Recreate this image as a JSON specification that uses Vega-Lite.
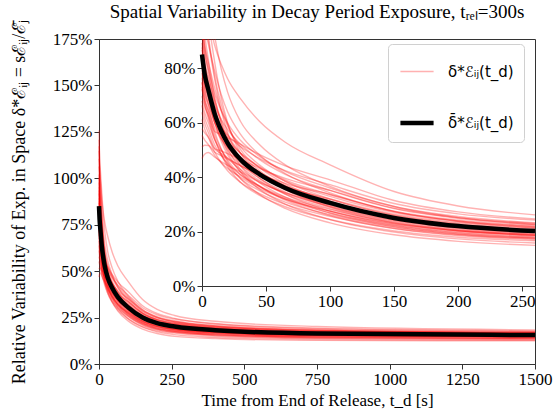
{
"$schema":"https://vega.github.io/schema/vega-lite/v6.json",
"width":436,"height":325,
"autosize":{"type":"none"},
"padding":{"left":99,"top":39,"right":20,"bottom":53},
"title":{"text":"Spatial Variability in Decay Period Exposure, tᵣₑₗ=300s","font":"Liberation Serif","fontSize":19,"fontWeight":"normal","color":"black","anchor":"middle","offset":-3},
"datasets":{
"mean":[{"t":0,"v":0.85,"k":"b"},{"t":2,"v":0.78,"k":"b"},{"t":5,"v":0.72,"k":"b"},{"t":10,"v":0.63,"k":"b"},{"t":15,"v":0.57,"k":"b"},{"t":20,"v":0.525,"k":"b"},{"t":30,"v":0.465,"k":"b"},{"t":45,"v":0.41,"k":"b"},{"t":65,"v":0.36,"k":"b"},{"t":100,"v":0.305,"k":"b"},{"t":150,"v":0.25,"k":"b"},{"t":200,"v":0.22,"k":"b"},{"t":260,"v":0.202,"k":"b"},{"t":400,"v":0.182,"k":"b"},{"t":750,"v":0.164,"k":"b"},{"t":1500,"v":0.156,"k":"b"}],
"lines":[
{"i":1,"t":0,"v":1.258,"k":"a"},{"i":1,"t":2,"v":1.105,"k":"a"},{"i":1,"t":5,"v":0.981,"k":"a"},{"i":1,"t":10,"v":0.819,"k":"a"},{"i":1,"t":15,"v":0.691,"k":"a"},{"i":1,"t":20,"v":0.600,"k":"a"},{"i":1,"t":30,"v":0.488,"k":"a"},{"i":1,"t":45,"v":0.416,"k":"a"},{"i":1,"t":65,"v":0.355,"k":"a"},{"i":1,"t":100,"v":0.290,"k":"a"},{"i":1,"t":150,"v":0.234,"k":"a"},{"i":1,"t":200,"v":0.204,"k":"a"},{"i":1,"t":260,"v":0.186,"k":"a"},{"i":1,"t":400,"v":0.169,"k":"a"},{"i":1,"t":750,"v":0.154,"k":"a"},{"i":1,"t":1500,"v":0.148,"k":"a"},
{"i":2,"t":0,"v":1.207,"k":"a"},{"i":2,"t":2,"v":1.115,"k":"a"},{"i":2,"t":5,"v":1.037,"k":"a"},{"i":2,"t":10,"v":0.914,"k":"a"},{"i":2,"t":15,"v":0.797,"k":"a"},{"i":2,"t":20,"v":0.712,"k":"a"},{"i":2,"t":30,"v":0.605,"k":"a"},{"i":2,"t":45,"v":0.519,"k":"a"},{"i":2,"t":65,"v":0.445,"k":"a"},{"i":2,"t":100,"v":0.366,"k":"a"},{"i":2,"t":150,"v":0.292,"k":"a"},{"i":2,"t":200,"v":0.251,"k":"a"},{"i":2,"t":260,"v":0.226,"k":"a"},{"i":2,"t":400,"v":0.202,"k":"a"},{"i":2,"t":750,"v":0.180,"k":"a"},{"i":2,"t":1500,"v":0.168,"k":"a"},
{"i":3,"t":0,"v":1.148,"k":"a"},{"i":3,"t":2,"v":1.012,"k":"a"},{"i":3,"t":5,"v":0.902,"k":"a"},{"i":3,"t":10,"v":0.756,"k":"a"},{"i":3,"t":15,"v":0.644,"k":"a"},{"i":3,"t":20,"v":0.564,"k":"a"},{"i":3,"t":30,"v":0.465,"k":"a"},{"i":3,"t":45,"v":0.396,"k":"a"},{"i":3,"t":65,"v":0.337,"k":"a"},{"i":3,"t":100,"v":0.275,"k":"a"},{"i":3,"t":150,"v":0.223,"k":"a"},{"i":3,"t":200,"v":0.195,"k":"a"},{"i":3,"t":260,"v":0.178,"k":"a"},{"i":3,"t":400,"v":0.161,"k":"a"},{"i":3,"t":750,"v":0.146,"k":"a"},{"i":3,"t":1500,"v":0.140,"k":"a"},
{"i":4,"t":0,"v":1.105,"k":"a"},{"i":4,"t":2,"v":1.041,"k":"a"},{"i":4,"t":5,"v":0.983,"k":"a"},{"i":4,"t":10,"v":0.882,"k":"a"},{"i":4,"t":15,"v":0.814,"k":"a"},{"i":4,"t":20,"v":0.761,"k":"a"},{"i":4,"t":30,"v":0.688,"k":"a"},{"i":4,"t":45,"v":0.604,"k":"a"},{"i":4,"t":65,"v":0.528,"k":"a"},{"i":4,"t":100,"v":0.445,"k":"a"},{"i":4,"t":150,"v":0.347,"k":"a"},{"i":4,"t":200,"v":0.294,"k":"a"},{"i":4,"t":260,"v":0.261,"k":"a"},{"i":4,"t":400,"v":0.230,"k":"a"},{"i":4,"t":750,"v":0.202,"k":"a"},{"i":4,"t":1500,"v":0.184,"k":"a"},
{"i":5,"t":0,"v":1.063,"k":"a"},{"i":5,"t":2,"v":0.934,"k":"a"},{"i":5,"t":5,"v":0.830,"k":"a"},{"i":5,"t":10,"v":0.693,"k":"a"},{"i":5,"t":15,"v":0.597,"k":"a"},{"i":5,"t":20,"v":0.528,"k":"a"},{"i":5,"t":30,"v":0.442,"k":"a"},{"i":5,"t":45,"v":0.379,"k":"a"},{"i":5,"t":65,"v":0.326,"k":"a"},{"i":5,"t":100,"v":0.268,"k":"a"},{"i":5,"t":150,"v":0.218,"k":"a"},{"i":5,"t":200,"v":0.190,"k":"a"},{"i":5,"t":260,"v":0.174,"k":"a"},{"i":5,"t":400,"v":0.157,"k":"a"},{"i":5,"t":750,"v":0.143,"k":"a"},{"i":5,"t":1500,"v":0.137,"k":"a"},
{"i":6,"t":0,"v":1.020,"k":"a"},{"i":6,"t":2,"v":0.950,"k":"a"},{"i":6,"t":5,"v":0.887,"k":"a"},{"i":6,"t":10,"v":0.788,"k":"a"},{"i":6,"t":15,"v":0.703,"k":"a"},{"i":6,"t":20,"v":0.640,"k":"a"},{"i":6,"t":30,"v":0.558,"k":"a"},{"i":6,"t":45,"v":0.481,"k":"a"},{"i":6,"t":65,"v":0.413,"k":"a"},{"i":6,"t":100,"v":0.342,"k":"a"},{"i":6,"t":150,"v":0.274,"k":"a"},{"i":6,"t":200,"v":0.237,"k":"a"},{"i":6,"t":260,"v":0.214,"k":"a"},{"i":6,"t":400,"v":0.192,"k":"a"},{"i":6,"t":750,"v":0.172,"k":"a"},{"i":6,"t":1500,"v":0.162,"k":"a"},
{"i":7,"t":0,"v":0.978,"k":"a"},{"i":7,"t":2,"v":0.870,"k":"a"},{"i":7,"t":5,"v":0.781,"k":"a"},{"i":7,"t":10,"v":0.662,"k":"a"},{"i":7,"t":15,"v":0.573,"k":"a"},{"i":7,"t":20,"v":0.508,"k":"a"},{"i":7,"t":30,"v":0.428,"k":"a"},{"i":7,"t":45,"v":0.367,"k":"a"},{"i":7,"t":65,"v":0.315,"k":"a"},{"i":7,"t":100,"v":0.259,"k":"a"},{"i":7,"t":150,"v":0.211,"k":"a"},{"i":7,"t":200,"v":0.185,"k":"a"},{"i":7,"t":260,"v":0.170,"k":"a"},{"i":7,"t":400,"v":0.154,"k":"a"},{"i":7,"t":750,"v":0.140,"k":"a"},{"i":7,"t":1500,"v":0.134,"k":"a"},
{"i":8,"t":0,"v":0.952,"k":"a"},{"i":8,"t":2,"v":0.882,"k":"a"},{"i":8,"t":5,"v":0.820,"k":"a"},{"i":8,"t":10,"v":0.725,"k":"a"},{"i":8,"t":15,"v":0.646,"k":"a"},{"i":8,"t":20,"v":0.587,"k":"a"},{"i":8,"t":30,"v":0.512,"k":"a"},{"i":8,"t":45,"v":0.444,"k":"a"},{"i":8,"t":65,"v":0.384,"k":"a"},{"i":8,"t":100,"v":0.320,"k":"a"},{"i":8,"t":150,"v":0.259,"k":"a"},{"i":8,"t":200,"v":0.226,"k":"a"},{"i":8,"t":260,"v":0.206,"k":"a"},{"i":8,"t":400,"v":0.185,"k":"a"},{"i":8,"t":750,"v":0.166,"k":"a"},{"i":8,"t":1500,"v":0.158,"k":"a"},
{"i":9,"t":0,"v":0.935,"k":"a"},{"i":9,"t":2,"v":0.831,"k":"a"},{"i":9,"t":5,"v":0.745,"k":"a"},{"i":9,"t":10,"v":0.630,"k":"a"},{"i":9,"t":15,"v":0.550,"k":"a"},{"i":9,"t":20,"v":0.492,"k":"a"},{"i":9,"t":30,"v":0.419,"k":"a"},{"i":9,"t":45,"v":0.355,"k":"a"},{"i":9,"t":65,"v":0.301,"k":"a"},{"i":9,"t":100,"v":0.244,"k":"a"},{"i":9,"t":150,"v":0.198,"k":"a"},{"i":9,"t":200,"v":0.173,"k":"a"},{"i":9,"t":260,"v":0.158,"k":"a"},{"i":9,"t":400,"v":0.144,"k":"a"},{"i":9,"t":750,"v":0.132,"k":"a"},{"i":9,"t":1500,"v":0.128,"k":"a"},
{"i":10,"t":0,"v":0.918,"k":"a"},{"i":10,"t":2,"v":0.853,"k":"a"},{"i":10,"t":5,"v":0.796,"k":"a"},{"i":10,"t":10,"v":0.706,"k":"a"},{"i":10,"t":15,"v":0.644,"k":"a"},{"i":10,"t":20,"v":0.598,"k":"a"},{"i":10,"t":30,"v":0.535,"k":"a"},{"i":10,"t":45,"v":0.476,"k":"a"},{"i":10,"t":65,"v":0.421,"k":"a"},{"i":10,"t":100,"v":0.360,"k":"a"},{"i":10,"t":150,"v":0.292,"k":"a"},{"i":10,"t":200,"v":0.255,"k":"a"},{"i":10,"t":260,"v":0.232,"k":"a"},{"i":10,"t":400,"v":0.207,"k":"a"},{"i":10,"t":750,"v":0.184,"k":"a"},{"i":10,"t":1500,"v":0.172,"k":"a"},
{"i":11,"t":0,"v":0.893,"k":"a"},{"i":11,"t":2,"v":0.805,"k":"a"},{"i":11,"t":5,"v":0.733,"k":"a"},{"i":11,"t":10,"v":0.630,"k":"a"},{"i":11,"t":15,"v":0.564,"k":"a"},{"i":11,"t":20,"v":0.515,"k":"a"},{"i":11,"t":30,"v":0.451,"k":"a"},{"i":11,"t":45,"v":0.395,"k":"a"},{"i":11,"t":65,"v":0.345,"k":"a"},{"i":11,"t":100,"v":0.290,"k":"a"},{"i":11,"t":150,"v":0.238,"k":"a"},{"i":11,"t":200,"v":0.209,"k":"a"},{"i":11,"t":260,"v":0.192,"k":"a"},{"i":11,"t":400,"v":0.173,"k":"a"},{"i":11,"t":750,"v":0.157,"k":"a"},{"i":11,"t":1500,"v":0.150,"k":"a"},
{"i":12,"t":0,"v":0.876,"k":"a"},{"i":12,"t":2,"v":0.817,"k":"a"},{"i":12,"t":5,"v":0.765,"k":"a"},{"i":12,"t":10,"v":0.680,"k":"a"},{"i":12,"t":15,"v":0.610,"k":"a"},{"i":12,"t":20,"v":0.557,"k":"a"},{"i":12,"t":30,"v":0.488,"k":"a"},{"i":12,"t":45,"v":0.423,"k":"a"},{"i":12,"t":65,"v":0.366,"k":"a"},{"i":12,"t":100,"v":0.305,"k":"a"},{"i":12,"t":150,"v":0.248,"k":"a"},{"i":12,"t":200,"v":0.217,"k":"a"},{"i":12,"t":260,"v":0.198,"k":"a"},{"i":12,"t":400,"v":0.178,"k":"a"},{"i":12,"t":750,"v":0.161,"k":"a"},{"i":12,"t":1500,"v":0.153,"k":"a"},
{"i":13,"t":0,"v":0.850,"k":"a"},{"i":13,"t":2,"v":0.766,"k":"a"},{"i":13,"t":5,"v":0.697,"k":"a"},{"i":13,"t":10,"v":0.599,"k":"a"},{"i":13,"t":15,"v":0.532,"k":"a"},{"i":13,"t":20,"v":0.482,"k":"a"},{"i":13,"t":30,"v":0.419,"k":"a"},{"i":13,"t":45,"v":0.366,"k":"a"},{"i":13,"t":65,"v":0.319,"k":"a"},{"i":13,"t":100,"v":0.268,"k":"a"},{"i":13,"t":150,"v":0.222,"k":"a"},{"i":13,"t":200,"v":0.197,"k":"a"},{"i":13,"t":260,"v":0.182,"k":"a"},{"i":13,"t":400,"v":0.165,"k":"a"},{"i":13,"t":750,"v":0.150,"k":"a"},{"i":13,"t":1500,"v":0.145,"k":"a"},
{"i":14,"t":0,"v":0.850,"k":"a"},{"i":14,"t":2,"v":0.785,"k":"a"},{"i":14,"t":5,"v":0.729,"k":"a"},{"i":14,"t":10,"v":0.643,"k":"a"},{"i":14,"t":15,"v":0.587,"k":"a"},{"i":14,"t":20,"v":0.545,"k":"a"},{"i":14,"t":30,"v":0.488,"k":"a"},{"i":14,"t":45,"v":0.435,"k":"a"},{"i":14,"t":65,"v":0.385,"k":"a"},{"i":14,"t":100,"v":0.329,"k":"a"},{"i":14,"t":150,"v":0.270,"k":"a"},{"i":14,"t":200,"v":0.238,"k":"a"},{"i":14,"t":260,"v":0.218,"k":"a"},{"i":14,"t":400,"v":0.196,"k":"a"},{"i":14,"t":750,"v":0.175,"k":"a"},{"i":14,"t":1500,"v":0.165,"k":"a"},
{"i":15,"t":0,"v":0.833,"k":"a"},{"i":15,"t":2,"v":0.756,"k":"a"},{"i":15,"t":5,"v":0.692,"k":"a"},{"i":15,"t":10,"v":0.599,"k":"a"},{"i":15,"t":15,"v":0.542,"k":"a"},{"i":15,"t":20,"v":0.499,"k":"a"},{"i":15,"t":30,"v":0.442,"k":"a"},{"i":15,"t":45,"v":0.387,"k":"a"},{"i":15,"t":65,"v":0.337,"k":"a"},{"i":15,"t":100,"v":0.284,"k":"a"},{"i":15,"t":150,"v":0.231,"k":"a"},{"i":15,"t":200,"v":0.203,"k":"a"},{"i":15,"t":260,"v":0.186,"k":"a"},{"i":15,"t":400,"v":0.168,"k":"a"},{"i":15,"t":750,"v":0.153,"k":"a"},{"i":15,"t":1500,"v":0.147,"k":"a"},
{"i":16,"t":0,"v":0.816,"k":"a"},{"i":16,"t":2,"v":0.760,"k":"a"},{"i":16,"t":5,"v":0.710,"k":"a"},{"i":16,"t":10,"v":0.630,"k":"a"},{"i":16,"t":15,"v":0.574,"k":"a"},{"i":16,"t":20,"v":0.532,"k":"a"},{"i":16,"t":30,"v":0.474,"k":"a"},{"i":16,"t":45,"v":0.418,"k":"a"},{"i":16,"t":65,"v":0.367,"k":"a"},{"i":16,"t":100,"v":0.311,"k":"a"},{"i":16,"t":150,"v":0.253,"k":"a"},{"i":16,"t":200,"v":0.221,"k":"a"},{"i":16,"t":260,"v":0.202,"k":"a"},{"i":16,"t":400,"v":0.182,"k":"a"},{"i":16,"t":750,"v":0.164,"k":"a"},{"i":16,"t":1500,"v":0.156,"k":"a"},
{"i":17,"t":0,"v":0.808,"k":"a"},{"i":17,"t":2,"v":0.727,"k":"a"},{"i":17,"t":5,"v":0.661,"k":"a"},{"i":17,"t":10,"v":0.567,"k":"a"},{"i":17,"t":15,"v":0.503,"k":"a"},{"i":17,"t":20,"v":0.456,"k":"a"},{"i":17,"t":30,"v":0.395,"k":"a"},{"i":17,"t":45,"v":0.336,"k":"a"},{"i":17,"t":65,"v":0.285,"k":"a"},{"i":17,"t":100,"v":0.232,"k":"a"},{"i":17,"t":150,"v":0.188,"k":"a"},{"i":17,"t":200,"v":0.164,"k":"a"},{"i":17,"t":260,"v":0.149,"k":"a"},{"i":17,"t":400,"v":0.137,"k":"a"},{"i":17,"t":750,"v":0.127,"k":"a"},{"i":17,"t":1500,"v":0.125,"k":"a"},
{"i":18,"t":0,"v":0.791,"k":"a"},{"i":18,"t":2,"v":0.739,"k":"a"},{"i":18,"t":5,"v":0.693,"k":"a"},{"i":18,"t":10,"v":0.617,"k":"a"},{"i":18,"t":15,"v":0.583,"k":"a"},{"i":18,"t":20,"v":0.554,"k":"a"},{"i":18,"t":30,"v":0.512,"k":"a"},{"i":18,"t":45,"v":0.468,"k":"a"},{"i":18,"t":65,"v":0.424,"k":"a"},{"i":18,"t":100,"v":0.372,"k":"a"},{"i":18,"t":150,"v":0.303,"k":"a"},{"i":18,"t":200,"v":0.265,"k":"a"},{"i":18,"t":260,"v":0.242,"k":"a"},{"i":18,"t":400,"v":0.215,"k":"a"},{"i":18,"t":750,"v":0.190,"k":"a"},{"i":18,"t":1500,"v":0.175,"k":"a"},
{"i":19,"t":0,"v":0.782,"k":"a"},{"i":19,"t":2,"v":0.726,"k":"a"},{"i":19,"t":5,"v":0.676,"k":"a"},{"i":19,"t":10,"v":0.599,"k":"a"},{"i":19,"t":15,"v":0.547,"k":"a"},{"i":19,"t":20,"v":0.509,"k":"a"},{"i":19,"t":30,"v":0.456,"k":"a"},{"i":19,"t":45,"v":0.405,"k":"a"},{"i":19,"t":65,"v":0.357,"k":"a"},{"i":19,"t":100,"v":0.305,"k":"a"},{"i":19,"t":150,"v":0.252,"k":"a"},{"i":19,"t":200,"v":0.223,"k":"a"},{"i":19,"t":260,"v":0.206,"k":"a"},{"i":19,"t":400,"v":0.186,"k":"a"},{"i":19,"t":750,"v":0.167,"k":"a"},{"i":19,"t":1500,"v":0.159,"k":"a"},
{"i":20,"t":0,"v":0.765,"k":"a"},{"i":20,"t":2,"v":0.697,"k":"a"},{"i":20,"t":5,"v":0.639,"k":"a"},{"i":20,"t":10,"v":0.554,"k":"a"},{"i":20,"t":15,"v":0.502,"k":"a"},{"i":20,"t":20,"v":0.462,"k":"a"},{"i":20,"t":30,"v":0.409,"k":"a"},{"i":20,"t":45,"v":0.364,"k":"a"},{"i":20,"t":65,"v":0.321,"k":"a"},{"i":20,"t":100,"v":0.275,"k":"a"},{"i":20,"t":150,"v":0.227,"k":"a"},{"i":20,"t":200,"v":0.201,"k":"a"},{"i":20,"t":260,"v":0.186,"k":"a"},{"i":20,"t":400,"v":0.169,"k":"a"},{"i":20,"t":750,"v":0.154,"k":"a"},{"i":20,"t":1500,"v":0.148,"k":"a"},
{"i":21,"t":0,"v":0.748,"k":"a"},{"i":21,"t":2,"v":0.706,"k":"a"},{"i":21,"t":5,"v":0.666,"k":"a"},{"i":21,"t":10,"v":0.599,"k":"a"},{"i":21,"t":15,"v":0.561,"k":"a"},{"i":21,"t":20,"v":0.532,"k":"a"},{"i":21,"t":30,"v":0.488,"k":"a"},{"i":21,"t":45,"v":0.438,"k":"a"},{"i":21,"t":65,"v":0.390,"k":"a"},{"i":21,"t":100,"v":0.336,"k":"a"},{"i":21,"t":150,"v":0.273,"k":"a"},{"i":21,"t":200,"v":0.239,"k":"a"},{"i":21,"t":260,"v":0.218,"k":"a"},{"i":21,"t":400,"v":0.195,"k":"a"},{"i":21,"t":750,"v":0.174,"k":"a"},{"i":21,"t":1500,"v":0.164,"k":"a"},
{"i":22,"t":0,"v":0.731,"k":"a"},{"i":22,"t":2,"v":0.668,"k":"a"},{"i":22,"t":5,"v":0.615,"k":"a"},{"i":22,"t":10,"v":0.536,"k":"a"},{"i":22,"t":15,"v":0.485,"k":"a"},{"i":22,"t":20,"v":0.446,"k":"a"},{"i":22,"t":30,"v":0.395,"k":"a"},{"i":22,"t":45,"v":0.350,"k":"a"},{"i":22,"t":65,"v":0.308,"k":"a"},{"i":22,"t":100,"v":0.262,"k":"a"},{"i":22,"t":150,"v":0.217,"k":"a"},{"i":22,"t":200,"v":0.192,"k":"a"},{"i":22,"t":260,"v":0.178,"k":"a"},{"i":22,"t":400,"v":0.162,"k":"a"},{"i":22,"t":750,"v":0.148,"k":"a"},{"i":22,"t":1500,"v":0.144,"k":"a"},
{"i":23,"t":0,"v":0.723,"k":"a"},{"i":23,"t":2,"v":0.682,"k":"a"},{"i":23,"t":5,"v":0.645,"k":"a"},{"i":23,"t":10,"v":0.580,"k":"a"},{"i":23,"t":15,"v":0.540,"k":"a"},{"i":23,"t":20,"v":0.509,"k":"a"},{"i":23,"t":30,"v":0.465,"k":"a"},{"i":23,"t":45,"v":0.416,"k":"a"},{"i":23,"t":65,"v":0.369,"k":"a"},{"i":23,"t":100,"v":0.317,"k":"a"},{"i":23,"t":150,"v":0.260,"k":"a"},{"i":23,"t":200,"v":0.229,"k":"a"},{"i":23,"t":260,"v":0.210,"k":"a"},{"i":23,"t":400,"v":0.189,"k":"a"},{"i":23,"t":750,"v":0.170,"k":"a"},{"i":23,"t":1500,"v":0.161,"k":"a"},
{"i":24,"t":0,"v":0.697,"k":"a"},{"i":24,"t":2,"v":0.661,"k":"a"},{"i":24,"t":5,"v":0.628,"k":"a"},{"i":24,"t":10,"v":0.567,"k":"a"},{"i":24,"t":15,"v":0.557,"k":"a"},{"i":24,"t":20,"v":0.545,"k":"a"},{"i":24,"t":30,"v":0.521,"k":"a"},{"i":24,"t":45,"v":0.482,"k":"a"},{"i":24,"t":65,"v":0.441,"k":"a"},{"i":24,"t":100,"v":0.390,"k":"a"},{"i":24,"t":150,"v":0.314,"k":"a"},{"i":24,"t":200,"v":0.272,"k":"a"},{"i":24,"t":260,"v":0.246,"k":"a"},{"i":24,"t":400,"v":0.218,"k":"a"},{"i":24,"t":750,"v":0.193,"k":"a"},{"i":24,"t":1500,"v":0.178,"k":"a"},
{"i":25,"t":0,"v":0.680,"k":"a"},{"i":25,"t":2,"v":0.638,"k":"a"},{"i":25,"t":5,"v":0.599,"k":"a"},{"i":25,"t":10,"v":0.536,"k":"a"},{"i":25,"t":15,"v":0.498,"k":"a"},{"i":25,"t":20,"v":0.469,"k":"a"},{"i":25,"t":30,"v":0.428,"k":"a"},{"i":25,"t":45,"v":0.383,"k":"a"},{"i":25,"t":65,"v":0.341,"k":"a"},{"i":25,"t":100,"v":0.293,"k":"a"},{"i":25,"t":150,"v":0.241,"k":"a"},{"i":25,"t":200,"v":0.213,"k":"a"},{"i":25,"t":260,"v":0.196,"k":"a"},{"i":25,"t":400,"v":0.177,"k":"a"},{"i":25,"t":750,"v":0.160,"k":"a"},{"i":25,"t":1500,"v":0.153,"k":"a"},
{"i":26,"t":0,"v":0.663,"k":"a"},{"i":26,"t":2,"v":0.619,"k":"a"},{"i":26,"t":5,"v":0.580,"k":"a"},{"i":26,"t":10,"v":0.517,"k":"a"},{"i":26,"t":15,"v":0.479,"k":"a"},{"i":26,"t":20,"v":0.450,"k":"a"},{"i":26,"t":30,"v":0.409,"k":"a"},{"i":26,"t":45,"v":0.367,"k":"a"},{"i":26,"t":65,"v":0.326,"k":"a"},{"i":26,"t":100,"v":0.281,"k":"a"},{"i":26,"t":150,"v":0.232,"k":"a"},{"i":26,"t":200,"v":0.206,"k":"a"},{"i":26,"t":260,"v":0.190,"k":"a"},{"i":26,"t":400,"v":0.172,"k":"a"},{"i":26,"t":750,"v":0.156,"k":"a"},{"i":26,"t":1500,"v":0.150,"k":"a"},
{"i":27,"t":0,"v":0.638,"k":"a"},{"i":27,"t":2,"v":0.599,"k":"a"},{"i":27,"t":5,"v":0.563,"k":"a"},{"i":27,"t":10,"v":0.504,"k":"a"},{"i":27,"t":15,"v":0.486,"k":"a"},{"i":27,"t":20,"v":0.470,"k":"a"},{"i":27,"t":30,"v":0.442,"k":"a"},{"i":27,"t":45,"v":0.411,"k":"a"},{"i":27,"t":65,"v":0.377,"k":"a"},{"i":27,"t":100,"v":0.336,"k":"a"},{"i":27,"t":150,"v":0.275,"k":"a"},{"i":27,"t":200,"v":0.242,"k":"a"},{"i":27,"t":260,"v":0.222,"k":"a"},{"i":27,"t":400,"v":0.199,"k":"a"},{"i":27,"t":750,"v":0.178,"k":"a"},{"i":27,"t":1500,"v":0.167,"k":"a"},
{"i":28,"t":0,"v":0.612,"k":"a"},{"i":28,"t":2,"v":0.578,"k":"a"},{"i":28,"t":5,"v":0.546,"k":"a"},{"i":28,"t":10,"v":0.491,"k":"a"},{"i":28,"t":15,"v":0.453,"k":"a"},{"i":28,"t":20,"v":0.423,"k":"a"},{"i":28,"t":30,"v":0.381,"k":"a"},{"i":28,"t":45,"v":0.339,"k":"a"},{"i":28,"t":65,"v":0.300,"k":"a"},{"i":28,"t":100,"v":0.256,"k":"a"},{"i":28,"t":150,"v":0.212,"k":"a"},{"i":28,"t":200,"v":0.188,"k":"a"},{"i":28,"t":260,"v":0.174,"k":"a"},{"i":28,"t":400,"v":0.158,"k":"a"},{"i":28,"t":750,"v":0.145,"k":"a"},{"i":28,"t":1500,"v":0.140,"k":"a"},
{"i":29,"t":0,"v":0.578,"k":"a"},{"i":29,"t":2,"v":0.563,"k":"a"},{"i":29,"t":5,"v":0.546,"k":"a"},{"i":29,"t":10,"v":0.504,"k":"a"},{"i":29,"t":15,"v":0.496,"k":"a"},{"i":29,"t":20,"v":0.486,"k":"a"},{"i":29,"t":30,"v":0.465,"k":"a"},{"i":29,"t":45,"v":0.432,"k":"a"},{"i":29,"t":65,"v":0.395,"k":"a"},{"i":29,"t":100,"v":0.351,"k":"a"},{"i":29,"t":150,"v":0.286,"k":"a"},{"i":29,"t":200,"v":0.251,"k":"a"},{"i":29,"t":260,"v":0.230,"k":"a"},{"i":29,"t":400,"v":0.205,"k":"a"},{"i":29,"t":750,"v":0.182,"k":"a"},{"i":29,"t":1500,"v":0.170,"k":"a"},
{"i":30,"t":0,"v":0.553,"k":"a"},{"i":30,"t":2,"v":0.537,"k":"a"},{"i":30,"t":5,"v":0.519,"k":"a"},{"i":30,"t":10,"v":0.479,"k":"a"},{"i":30,"t":15,"v":0.453,"k":"a"},{"i":30,"t":20,"v":0.432,"k":"a"},{"i":30,"t":30,"v":0.400,"k":"a"},{"i":30,"t":45,"v":0.358,"k":"a"},{"i":30,"t":65,"v":0.319,"k":"a"},{"i":30,"t":100,"v":0.275,"k":"a"},{"i":30,"t":150,"v":0.228,"k":"a"},{"i":30,"t":200,"v":0.203,"k":"a"},{"i":30,"t":260,"v":0.188,"k":"a"},{"i":30,"t":400,"v":0.171,"k":"a"},{"i":30,"t":750,"v":0.155,"k":"a"},{"i":30,"t":1500,"v":0.150,"k":"a"},
{"i":31,"t":0,"v":0.510,"k":"a"},{"i":31,"t":2,"v":0.517,"k":"a"},{"i":31,"t":5,"v":0.516,"k":"a"},{"i":31,"t":10,"v":0.491,"k":"a"},{"i":31,"t":15,"v":0.479,"k":"a"},{"i":31,"t":20,"v":0.466,"k":"a"},{"i":31,"t":30,"v":0.442,"k":"a"},{"i":31,"t":45,"v":0.404,"k":"a"},{"i":31,"t":65,"v":0.365,"k":"a"},{"i":31,"t":100,"v":0.320,"k":"a"},{"i":31,"t":150,"v":0.264,"k":"a"},{"i":31,"t":200,"v":0.233,"k":"a"},{"i":31,"t":260,"v":0.214,"k":"a"},{"i":31,"t":400,"v":0.192,"k":"a"},{"i":31,"t":750,"v":0.172,"k":"a"},{"i":31,"t":1500,"v":0.162,"k":"a"},
{"i":32,"t":0,"v":0.468,"k":"a"},{"i":32,"t":2,"v":0.484,"k":"a"},{"i":32,"t":5,"v":0.490,"k":"a"},{"i":32,"t":10,"v":0.473,"k":"a"},{"i":32,"t":15,"v":0.457,"k":"a"},{"i":32,"t":20,"v":0.443,"k":"a"},{"i":32,"t":30,"v":0.419,"k":"a"},{"i":32,"t":45,"v":0.380,"k":"a"},{"i":32,"t":65,"v":0.343,"k":"a"},{"i":32,"t":100,"v":0.299,"k":"a"},{"i":32,"t":150,"v":0.247,"k":"a"},{"i":32,"t":200,"v":0.219,"k":"a"},{"i":32,"t":260,"v":0.202,"k":"a"},{"i":32,"t":400,"v":0.182,"k":"a"},{"i":32,"t":750,"v":0.164,"k":"a"},{"i":32,"t":1500,"v":0.156,"k":"a"},
{"i":33,"t":0,"v":1.173,"k":"a"},{"i":33,"t":2,"v":1.033,"k":"a"},{"i":33,"t":5,"v":0.919,"k":"a"},{"i":33,"t":10,"v":0.769,"k":"a"},{"i":33,"t":15,"v":0.667,"k":"a"},{"i":33,"t":20,"v":0.594,"k":"a"},{"i":33,"t":30,"v":0.502,"k":"a"},{"i":33,"t":45,"v":0.434,"k":"a"},{"i":33,"t":65,"v":0.375,"k":"a"},{"i":33,"t":100,"v":0.311,"k":"a"},{"i":33,"t":150,"v":0.253,"k":"a"},{"i":33,"t":200,"v":0.221,"k":"a"},{"i":33,"t":260,"v":0.202,"k":"a"},{"i":33,"t":400,"v":0.182,"k":"a"},{"i":33,"t":750,"v":0.164,"k":"a"},{"i":33,"t":1500,"v":0.156,"k":"a"},
{"i":34,"t":0,"v":1.003,"k":"a"},{"i":34,"t":2,"v":0.893,"k":"a"},{"i":34,"t":5,"v":0.803,"k":"a"},{"i":34,"t":10,"v":0.680,"k":"a"},{"i":34,"t":15,"v":0.600,"k":"a"},{"i":34,"t":20,"v":0.541,"k":"a"},{"i":34,"t":30,"v":0.465,"k":"a"},{"i":34,"t":45,"v":0.406,"k":"a"},{"i":34,"t":65,"v":0.353,"k":"a"},{"i":34,"t":100,"v":0.296,"k":"a"},{"i":34,"t":150,"v":0.243,"k":"a"},{"i":34,"t":200,"v":0.213,"k":"a"},{"i":34,"t":260,"v":0.196,"k":"a"},{"i":34,"t":400,"v":0.177,"k":"a"},{"i":34,"t":750,"v":0.160,"k":"a"},{"i":34,"t":1500,"v":0.153,"k":"a"},
{"i":35,"t":0,"v":0.748,"k":"a"},{"i":35,"t":2,"v":0.681,"k":"a"},{"i":35,"t":5,"v":0.624,"k":"a"},{"i":35,"t":10,"v":0.542,"k":"a"},{"i":35,"t":15,"v":0.482,"k":"a"},{"i":35,"t":20,"v":0.438,"k":"a"},{"i":35,"t":30,"v":0.381,"k":"a"},{"i":35,"t":45,"v":0.333,"k":"a"},{"i":35,"t":65,"v":0.291,"k":"a"},{"i":35,"t":100,"v":0.244,"k":"a"},{"i":35,"t":150,"v":0.202,"k":"a"},{"i":35,"t":200,"v":0.179,"k":"a"},{"i":35,"t":260,"v":0.166,"k":"a"},{"i":35,"t":400,"v":0.151,"k":"a"},{"i":35,"t":750,"v":0.138,"k":"a"},{"i":35,"t":1500,"v":0.134,"k":"a"},
{"i":36,"t":0,"v":0.867,"k":"a"},{"i":36,"t":2,"v":0.804,"k":"a"},{"i":36,"t":5,"v":0.748,"k":"a"},{"i":36,"t":10,"v":0.662,"k":"a"},{"i":36,"t":15,"v":0.612,"k":"a"},{"i":36,"t":20,"v":0.574,"k":"a"},{"i":36,"t":30,"v":0.521,"k":"a"},{"i":36,"t":45,"v":0.464,"k":"a"},{"i":36,"t":65,"v":0.410,"k":"a"},{"i":36,"t":100,"v":0.351,"k":"a"},{"i":36,"t":150,"v":0.284,"k":"a"},{"i":36,"t":200,"v":0.248,"k":"a"},{"i":36,"t":260,"v":0.226,"k":"a"},{"i":36,"t":400,"v":0.202,"k":"a"},{"i":36,"t":750,"v":0.180,"k":"a"},{"i":36,"t":1500,"v":0.168,"k":"a"}
]},
"layer":[
{"encoding":{
  "x":{"field":"t","type":"quantitative","scale":{"domain":[0,1500],"nice":false},"axis":{"values":[0,250,500,750,1000,1250,1500],"format":"d","title":"Time from End of Release, t_d [s]","titlePadding":5}},
  "y":{"field":"v","type":"quantitative","scale":{"domain":[0,1.75],"nice":false},"axis":{"values":[0,0.25,0.5,0.75,1,1.25,1.5,1.75],"format":".0%","title":"Relative Variability of Exp. in Space δ*ℰᵢⱼ = sℰᵢⱼ/ℰ̄ⱼ","titleFontSize":18,"titlePadding":24}},
  "color":{"field":"k","type":"nominal","scale":{"domain":["a","b"],"range":["#ff0000","#000000"]},"legend":{"labelExpr":"datum.value == 'a' ? 'δ*ℰᵢⱼ(t_d)' : 'δ̄*ℰᵢⱼ(t_d)'"}},
  "opacity":{"field":"k","type":"nominal","scale":{"domain":["a","b"],"range":[0.3,1]},"legend":{"labelExpr":"datum.value == 'a' ? 'δ*ℰᵢⱼ(t_d)' : 'δ̄*ℰᵢⱼ(t_d)'"}},
  "strokeWidth":{"field":"k","type":"nominal","scale":{"domain":["a","b"],"range":[1.4,4.5]},"legend":{"labelExpr":"datum.value == 'a' ? 'δ*ℰᵢⱼ(t_d)' : 'δ̄*ℰᵢⱼ(t_d)'"}}
 },
 "layer":[
  {"data":{"name":"lines"},"mark":{"type":"line","interpolate":"monotone"},"encoding":{"detail":{"field":"i","type":"nominal"}}},
  {"data":{"name":"mean"},"mark":{"type":"line","interpolate":"monotone"}}
 ]},
{"encoding":{
  "x":{"field":"t","type":"quantitative","scale":{"domain":[0,260],"nice":false,"range":[103,436]},"axis":{"orient":"bottom","offset":-78,"values":[0,50,100,150,200,250],"format":"d","title":null}},
  "y":{"field":"v","type":"quantitative","scale":{"domain":[0,0.907],"nice":false,"range":[247,0]},"axis":{"orient":"left","offset":-103,"values":[0,0.2,0.4,0.6,0.8],"format":".0%","title":null}},
  "color":{"field":"k","type":"nominal","scale":{"domain":["a","b"],"range":["#ff0000","#000000"]},"legend":{"labelExpr":"datum.value == 'a' ? 'δ*ℰᵢⱼ(t_d)' : 'δ̄*ℰᵢⱼ(t_d)'"}},
  "opacity":{"field":"k","type":"nominal","scale":{"domain":["a","b"],"range":[0.3,1]},"legend":{"labelExpr":"datum.value == 'a' ? 'δ*ℰᵢⱼ(t_d)' : 'δ̄*ℰᵢⱼ(t_d)'"}},
  "strokeWidth":{"field":"k","type":"nominal","scale":{"domain":["a","b"],"range":[1.4,4.5]},"legend":{"labelExpr":"datum.value == 'a' ? 'δ*ℰᵢⱼ(t_d)' : 'δ̄*ℰᵢⱼ(t_d)'"}}
 },
 "layer":[
  {"data":{"name":"lines"},"transform":[{"filter":"datum.t <= 260"}],"mark":{"type":"line","interpolate":"monotone","clip":true},"encoding":{"detail":{"field":"i","type":"nominal"}}},
  {"data":{"name":"mean"},"transform":[{"filter":"datum.t <= 260"}],"mark":{"type":"line","interpolate":"monotone","clip":true}}
 ]}
],
"resolve":{"scale":{"x":"independent","y":"independent"},"axis":{"x":"independent","y":"independent"}},
"config":{
 "view":{"stroke":"#333333","strokeWidth":1},
 "axis":{"grid":false,"labelFont":"Liberation Serif","labelFontSize":17,"labelColor":"#000000","titleFont":"Liberation Serif","titleFontSize":17,"titleFontWeight":"normal","titleColor":"#000000","domainColor":"#333333","tickColor":"#333333","tickSize":5,"labelPadding":2,"labelFlush":false,"labelOverlap":false},
 "legend":{"orient":"none","legendX":289,"legendY":5,"title":null,"fillColor":"#ffffff","strokeColor":"#d0d0d0","cornerRadius":4,"padding":10,"symbolType":"stroke","symbolSize":1100,"labelFont":"DejaVu Sans","labelFontSize":15,"labelColor":"#000000","labelOffset":12,"rowPadding":24,"labelLimit":300}
}
}
